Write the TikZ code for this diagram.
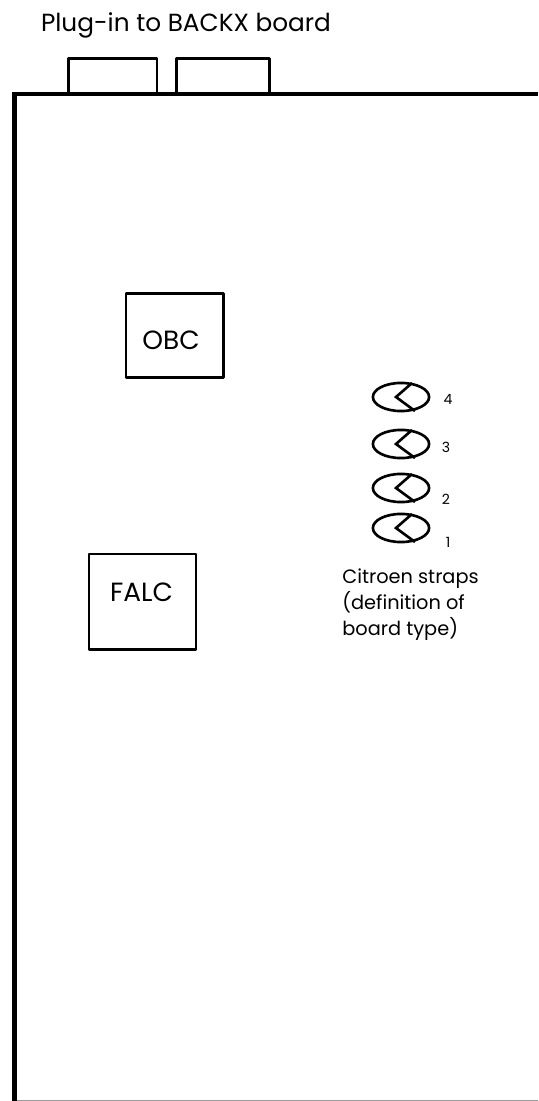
\documentclass[tikz,border=0pt]{standalone}
\usepackage{fontspec}
\setmainfont{Poppins}
\newcommand{\strap}[2]{%
  \draw[line width=1.5pt] (#1,#2) ellipse (16pt and 8pt);
  \draw[line width=1.5pt] (#1+11,#2-14) -- (#1-5,#2) -- (#1+14,#2+14);
}
\tikzset{
  box/.style={draw, line width=1.5pt, line join=round, anchor=north west, inner sep=0pt},
  boxtext/.style={inner sep=0pt, font=\fontsize{15}{18}\selectfont},
  lbl/.style={inner sep=0pt, font=\fontsize{8}{10}\selectfont},
}
\begin{document}
\begin{tikzpicture}[x=0.02cm,y=-0.02cm]
        \useasboundingbox (0,0) rectangle (538,1101);

        % board outline
        \draw[line width=2.8pt, line cap=rect] (14.5,1101) -- (14.5,94);
        \draw[line width=1.8pt] (14.5,94) -- (538,94);
        \draw[color=black!40, line width=0.6pt] (17,1100.5) -- (538,1100.5);

        % plug-in connectors
        \draw[line width=1.3pt, line join=round] (68.5,93) -- (68.5,58.5) -- (157,58.5) -- (157,93);
        \draw[line width=1.3pt, line join=round] (176.5,93) -- (176.5,58.5) -- (269.5,58.5) -- (269.5,93);
        \node[inner sep=0pt, font=\fontsize{14.1}{17}\selectfont] (plug) at (186,25) {Plug-in to BACKX board};

        % chips
        \node[box, minimum width=55.5pt, minimum height=47.8pt] (obc) at (124.5,292.5) {};
        \node[box, minimum width=60.9pt, minimum height=54.6pt] (falc) at (87.5,552.5) {};
        \node[boxtext] (obctext) at (171,340) {OBC};
        \node[boxtext] (falctext) at (141.5,592) {FALC};

        % straps
        \strap{401}{397}
        \strap{401}{444}
        \strap{401}{488}
        \strap{401}{528}
        \node[lbl] (s4) at (448,399) {4};
        \node[lbl] (s3) at (446,447) {3};
        \node[lbl] (s2) at (446,499) {2};
        \node[lbl] (s1) at (448,542) {1};

        \node[inner sep=0pt, align=left, anchor=north west, font=\fontsize{11}{14.8}\selectfont] (note) at (342,568) {Citroen straps\\(definition of\\board type)};

    \end{tikzpicture}
\end{document}
